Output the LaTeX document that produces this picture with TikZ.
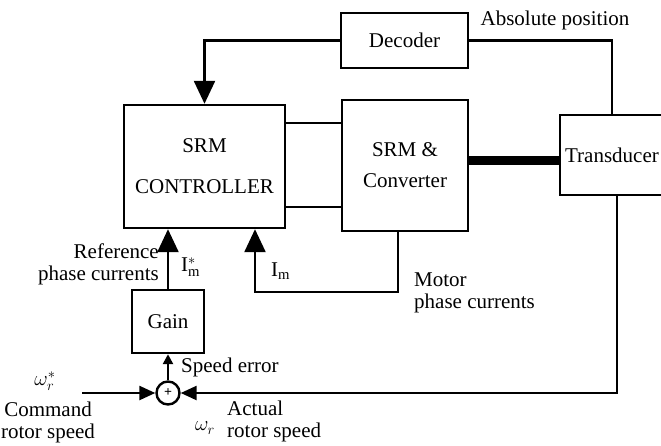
\documentclass[tikz,border=0pt]{standalone}
\usepackage{fontspec}
\setmainfont{Liberation Serif}
\usetikzlibrary{arrows.meta,positioning}

\begin{document}
\begin{tikzpicture}[x=1pt,y=-1pt,line width=2.4pt,
    font=\fontsize{21}{22}\selectfont,
    blk/.style={draw,line width=2.4pt,inner sep=0pt,align=center},
    lbl/.style={inner sep=0pt},
    bigarr/.style={-{Triangle[length=23pt,width=21pt]}},
    sumarr/.style={-{Triangle[length=16pt,width=14pt]}}]
  \useasboundingbox (0,0) rectangle (661,445);
  % blocks
  \node[blk,minimum width=127pt,minimum height=55pt] (dec) at (404.5,40.5) {Decoder};
  \node[blk,minimum width=161pt,minimum height=123pt] (ctrl) at (204.5,166.5) {SRM\\[19pt]CONTROLLER};
  \node[blk,minimum width=126pt,minimum height=131pt] (conv) at (405,165.5) {SRM \&\\[9pt]Converter};
  \node[blk,minimum width=104pt,minimum height=80pt] (trans) at (612,155) {Transducer};
  \node[blk,minimum width=72pt,minimum height=63pt] (gain) at (168,321.5) {Gain};
  \node[blk,circle,minimum size=23pt,font=\fontsize{14}{14}\selectfont\bfseries] (sum) at (168,393) {+};
  \coordinate (imc) at (255,292);
  \coordinate (cmd) at (82,393);
  % position feedback
  \draw[bigarr] (dec.west) -| (ctrl.north);
  \draw (dec.east) -| (trans.north);
  % controller to converter
  \draw ([yshift=43.5pt]ctrl.east) -- ([yshift=43.5pt]ctrl.east -| conv.west);
  \draw ([yshift=-40.5pt]ctrl.east) -- ([yshift=-40.5pt]ctrl.east -| conv.west);
  % shaft
  \draw[line width=9pt] ([yshift=5pt]conv.east) -- ([yshift=5pt]conv.east -| trans.west);
  % current loop
  \draw[bigarr] (gain.north) -- (gain.north |- ctrl.south);
  \draw[bigarr] ([xshift=-7pt]conv.south) |- (imc) -- (imc |- ctrl.south);
  % speed loop
  \draw[sumarr] (cmd) -- (sum.west);
  \draw[sumarr] ([xshift=5pt]trans.south) |- (sum.east);
  \draw[-{Triangle[length=10pt,width=10pt]}] (sum.north) -- (gain.south);
  % labels
  \node[lbl] (absl) at (555,20) {Absolute position};
  \node[lbl,align=right,anchor=east] (refl) at (160,264) {Reference\\phase currents};
  \node[lbl,anchor=west] (istar) at (180,267) {$\mathrm{I}^{*}_{\mathrm{m}}$};
  \node[lbl,anchor=west] (iml) at (270,271) {$\mathrm{I}_{\mathrm{m}}$};
  \node[lbl,align=left,anchor=west] (motl) at (413,293) {Motor\\phase currents};
  \node[lbl,anchor=west] (errl) at (180,367) {Speed error};
  \node[lbl] (wcl) at (45,381) {$\omega_r^{*}$};
  \node[lbl,align=center] (cmdl) at (48,422) {Command\\rotor speed};
  \node[lbl] (wrl) at (205,428) {$\omega_r$};
  \node[lbl,align=left,anchor=west] (actl) at (226,421) {Actual\\rotor speed};
\end{tikzpicture}
\end{document}
